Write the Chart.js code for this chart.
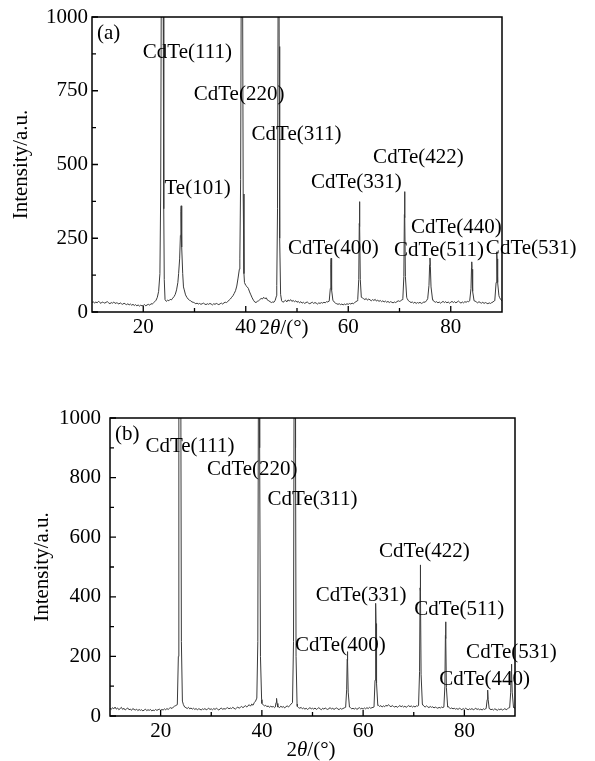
<!DOCTYPE html>
<html>
<head>
<meta charset="utf-8">
<script src="https://cdn.jsdelivr.net/npm/chart.js@4.4.1/dist/chart.umd.min.js"></script>
<style>
  body { margin: 0; background: #fff; }
  #wrap { position: relative; width: 595px; height: 761px; }
  canvas { position: absolute; left: 0; }
  #chartA { top: 0; }
  #chartB { top: 345px; }
</style>
</head>
<body>
<div id="wrap">
  <canvas id="chartA" width="595" height="345"></canvas>
  <canvas id="chartB" width="595" height="416"></canvas>
</div>
<script>
// XRD patterns, 2θ from 10° to 90°, background read every 0.25°
// null = under a peak, the peak points below take over there
const gridStart = 10;
const gridStep = 0.25;

// panel (a) background
const bgA = [
  32,35,30,34,31,36,33,29,34,32,30,33,35,31,28,32,30,34,29,31,
  30,27,31,28,26,30,27,25,28,24,27,23,26,22,25,21,24,20,23,21,
  22,25,21,24,26,23,28,27,31,35,40,50,70,null,null,null,null,42,36,40,
  38,43,41,47,52,60,75,100,null,null,null,null,75,58,50,44,40,38,34,33,
  31,28,30,27,29,26,28,30,27,25,28,26,29,27,24,28,26,29,27,25,
  28,30,27,31,33,32,36,40,44,50,55,63,72,88,115,145,null,null,null,100,
  90,86,80,68,58,48,40,34,32,36,38,42,46,44,50,45,48,40,38,35,
  32,34,33,40,55,null,null,null,38,33,36,40,34,41,37,42,36,39,35,38,
  33,36,31,35,30,33,29,32,34,30,28,31,33,29,32,30,27,31,29,32,
  30,33,31,35,34,37,null,null,null,34,30,28,26,28,25,27,24,27,25,28,
  26,29,27,30,28,32,35,38,null,null,null,48,45,42,46,40,44,41,38,42,
  39,43,37,40,36,39,35,38,34,37,33,36,32,35,33,31,34,32,35,38,
  36,38,42,null,null,null,45,38,35,32,34,30,33,29,32,30,33,29,31,34,
  33,38,null,null,null,null,40,36,33,35,31,34,30,33,36,32,35,31,34,30,
  33,36,32,35,31,34,37,33,30,34,31,35,33,36,35,null,null,null,null,37,
  34,31,35,32,30,33,29,32,30,28,31,29,32,34,38,null,null,null,50,42,
  38
];

// panel (a) peak profiles [2θ, intensity]
const peaksA = [
  [[23.25,130],[23.4,400],[23.5,1000],[23.6,2200],[23.7,3000],[23.8,2200],[23.9,1000],[24.0,350],[24.1,110]],
  [[26.9,130],[27.1,180],[27.25,260],[27.35,340],[27.4,360],[27.45,330],[27.55,220],[27.7,130],[27.85,85]],
  [[38.85,180],[39.0,450],[39.1,1000],[39.18,2000],[39.25,2800],[39.32,2000],[39.4,1000],[39.5,400],[39.65,130]],
  [[46.05,90],[46.2,350],[46.3,1000],[46.35,1800],[46.4,2500],[46.45,1800],[46.52,900],[46.62,250],[46.8,60]],
  [[56.3,40],[56.5,80],[56.6,160],[56.65,182],[56.7,150],[56.8,75],[57.0,40]],
  [[61.85,42],[62.05,110],[62.15,300],[62.2,374],[62.25,290],[62.35,110],[62.55,50]],
  [[70.65,45],[70.85,120],[70.95,330],[71.0,408],[71.05,320],[71.15,120],[71.4,50]],
  [[75.5,45],[75.75,90],[75.88,160],[75.95,183],[76.02,155],[76.15,85],[76.45,42]],
  [[83.7,38],[83.95,80],[84.05,150],[84.1,170],[84.15,145],[84.27,70],[84.55,38]],
  [[88.6,40],[88.85,100],[88.95,180],[89.0,204],[89.05,180],[89.15,100],[89.4,55]]
];

// panel (b) background
const bgB = [
  26,22,28,24,30,23,27,21,25,29,22,26,20,24,27,21,23,19,25,22,
  20,23,18,22,19,21,17,20,23,18,21,19,22,17,20,18,22,19,21,23,
  19,22,20,24,21,25,22,26,28,25,30,33,35,38,null,null,null,null,38,30,
  28,25,29,24,27,23,26,22,25,21,24,23,20,24,22,25,21,23,26,22,
  24,21,25,22,26,23,20,24,27,22,25,23,26,28,24,27,25,29,26,23,
  27,30,26,29,32,28,31,35,30,34,38,33,40,36,45,50,null,null,null,null,
  42,38,34,36,31,34,29,33,30,32,28,null,null,31,28,33,29,32,27,31,
  34,30,35,40,44,null,null,null,32,28,26,29,24,27,23,26,22,25,28,24,
  26,23,27,22,25,28,24,21,26,23,27,24,22,25,28,23,26,22,25,27,
  24,21,26,23,25,27,29,null,null,null,28,24,26,23,27,22,25,28,24,26,
  23,27,24,28,25,29,26,28,29,null,null,null,36,32,35,30,34,31,36,33,
  38,34,31,35,32,30,33,29,32,35,31,34,30,33,29,32,35,31,34,30,
  33,30,34,33,null,null,null,38,33,30,34,31,28,32,29,31,27,30,28,26,
  29,27,30,28,null,null,null,32,28,25,27,24,26,23,25,22,26,24,21,25,
  22,26,23,21,24,22,25,21,23,26,22,24,21,23,20,24,22,25,null,null,
  24,21,23,20,24,22,19,23,21,24,20,22,25,21,24,27,null,null,null,28,
  26
];

// panel (b) peak profiles [2θ, intensity]
const peaksB = [
  [[23.3,40],[23.5,200],[23.6,1000],[23.7,2200],[23.8,3000],[23.9,2200],[24.0,1000],[24.1,250],[24.3,50]],
  [[39.0,60],[39.2,250],[39.3,1000],[39.38,2000],[39.45,2800],[39.52,2000],[39.6,900],[39.72,200],[39.95,55]],
  [[42.65,30],[42.8,45],[42.9,59],[43.0,42],[43.15,30]],
  [[46.05,45],[46.25,250],[46.35,1000],[46.42,2000],[46.5,2800],[46.58,2000],[46.65,900],[46.75,200],[46.95,40]],
  [[56.55,30],[56.75,90],[56.85,190],[56.9,216],[56.95,185],[57.05,80],[57.3,30]],
  [[62.15,30],[62.35,120],[62.45,320],[62.5,378],[62.55,310],[62.65,110],[62.9,35]],
  [[70.95,35],[71.15,150],[71.25,430],[71.3,507],[71.35,420],[71.45,140],[71.7,40]],
  [[75.95,30],[76.15,100],[76.25,270],[76.3,316],[76.35,260],[76.45,95],[76.7,30]],
  [[84.3,25],[84.5,55],[84.6,87],[84.7,55],[84.9,25]],
  [[88.95,28],[89.15,80],[89.25,150],[89.3,174],[89.35,150],[89.45,80],[89.7,30]]
];

// peak labels, placed in data coordinates
const labelsA = ['CdTe(111)','Te(101)','CdTe(220)','CdTe(311)','CdTe(400)','CdTe(331)','CdTe(422)','CdTe(440)','CdTe(511)','CdTe(531)'];
const labelXA = [28.6, 30.6, 38.7, 49.9, 57.1, 61.6, 73.7, 81.1, 77.7, 95.7];
const labelYA = [881, 420, 736, 603, 217, 438, 525, 285, 210, 217];

const labelsB = ['CdTe(111)','CdTe(220)','CdTe(311)','CdTe(400)','CdTe(331)','CdTe(422)','CdTe(511)','CdTe(531)','CdTe(440)'];
const labelXB = [25.8, 38.1, 50.0, 55.5, 59.6, 72.1, 79.0, 89.3, 84.0];
const labelYB = [906, 828, 725, 235, 406, 551, 356, 212, 123];

// axis ticks
const xTicks = [20, 40, 60, 80];
const xMinor = [30, 50, 70];
const yTicksA = [0, 250, 500, 750, 1000];
const yMinorA = [125, 375, 625, 875];
const yTicksB = [0, 200, 400, 600, 800, 1000];
const yMinorB = [100, 300, 500, 700, 900];

const FONT = '"Liberation Serif", "Times New Roman", serif';

// merge background grid with peak points
function buildPoints(bg, peaks) {
  const pts = [];
  bg.forEach((v, i) => {
    if (v !== null) pts.push({ x: gridStart + i * gridStep, y: v });
  });
  peaks.forEach(p => p.forEach(([x, y]) => pts.push({ x: x, y: y })));
  pts.sort((a, b) => a.x - b.x);
  return pts;
}

function drawXTitle(ctx, cx, cy) {
  const parts = [['2', ''], ['θ', 'italic '], ['/(°)', '']];
  let total = 0;
  parts.forEach(p => { ctx.font = p[1] + '21px ' + FONT; total += ctx.measureText(p[0]).width; });
  let x = cx - total / 2;
  ctx.textAlign = 'left';
  ctx.textBaseline = 'middle';
  parts.forEach(p => {
    ctx.font = p[1] + '21px ' + FONT;
    ctx.fillText(p[0], x, cy);
    x += ctx.measureText(p[0]).width;
  });
}

// frame, inward ticks, peak labels, panel tag, x title
function makeDecor(cfg) {
  return {
    id: 'decor',
    afterDatasetsDraw(chart) {
      const { ctx, chartArea: a, scales } = chart;
      const xs = scales.x, ys = scales.y;
      ctx.save();
      ctx.strokeStyle = '#000';
      ctx.lineWidth = 1.5;
      ctx.strokeRect(a.left, a.top, a.right - a.left, a.bottom - a.top);

      ctx.lineWidth = 1.3;
      ctx.beginPath();
      xTicks.forEach(v => { const p = xs.getPixelForValue(v); ctx.moveTo(p, a.bottom); ctx.lineTo(p, a.bottom - 6); });
      xMinor.forEach(v => { const p = xs.getPixelForValue(v); ctx.moveTo(p, a.bottom); ctx.lineTo(p, a.bottom - 4); });
      cfg.yTicks.forEach(v => { const p = ys.getPixelForValue(v); ctx.moveTo(a.left, p); ctx.lineTo(a.left + 6, p); });
      cfg.yMinor.forEach(v => { const p = ys.getPixelForValue(v); ctx.moveTo(a.left, p); ctx.lineTo(a.left + 4, p); });
      ctx.stroke();

      ctx.fillStyle = '#000';
      ctx.font = '21px ' + FONT;
      ctx.textAlign = 'center';
      ctx.textBaseline = 'middle';
      cfg.labels.forEach((t, i) => {
        ctx.fillText(t, xs.getPixelForValue(cfg.labelX[i]), ys.getPixelForValue(cfg.labelY[i]));
      });

      ctx.textAlign = 'left';
      ctx.fillText(cfg.tag, a.left + 5, a.top + 16);

      drawXTitle(ctx, cfg.titleX, cfg.titleY);
      ctx.restore();
    }
  };
}

function makeChart(id, cfg) {
  return new Chart(document.getElementById(id), {
    type: 'line',
    data: {
      datasets: [{
        data: buildPoints(cfg.bg, cfg.peaks),
        borderColor: '#3a3a3a',
        borderWidth: 1,
        pointRadius: 0,
        tension: 0,
        fill: false
      }]
    },
    options: {
      responsive: false,
      animation: false,
      events: [],
      layout: { padding: cfg.padding },
      plugins: { legend: { display: false }, tooltip: { enabled: false } },
      scales: {
        x: {
          type: 'linear',
          min: 10,
          max: 90,
          afterBuildTicks: s => { s.ticks = xTicks.map(v => ({ value: v })); },
          afterFit: s => { s.height = cfg.xHeight; },
          grid: { display: false, drawTicks: false },
          border: { display: false },
          ticks: { color: '#000', font: { family: FONT, size: 21 }, padding: 3, maxRotation: 0, callback: v => String(v) }
        },
        y: {
          type: 'linear',
          min: 0,
          max: 1000,
          afterBuildTicks: s => { s.ticks = cfg.yTicks.map(v => ({ value: v })); },
          afterFit: s => { s.width = cfg.yWidth; },
          grid: { display: false, drawTicks: false },
          border: { display: false },
          ticks: { color: '#000', font: { family: FONT, size: 21 }, padding: cfg.yPad, callback: v => String(v) },
          title: {
            display: true,
            text: 'Intensity/a.u.',
            color: '#000',
            font: { family: FONT, size: 21 },
            padding: { top: cfg.yTitlePad, bottom: 0 }
          }
        }
      }
    },
    plugins: [makeDecor(cfg)]
  });
}

makeChart('chartA', {
  bg: bgA, peaks: peaksA,
  labels: labelsA, labelX: labelXA, labelY: labelYA,
  yTicks: yTicksA, yMinor: yMinorA,
  padding: { top: 17, right: 93, left: 0, bottom: 0 },
  xHeight: 33, yWidth: 92, yPad: 4, yTitlePad: 9,
  tag: '(a)', titleX: 284, titleY: 328
});

makeChart('chartB', {
  bg: bgB, peaks: peaksB,
  labels: labelsB, labelX: labelXB, labelY: labelYB,
  yTicks: yTicksB, yMinor: yMinorB,
  padding: { top: 73, right: 80, left: 0, bottom: 0 },
  xHeight: 45, yWidth: 110, yPad: 9, yTitlePad: 30,
  tag: '(b)', titleX: 311, titleY: 405
});
</script>
</body>
</html>
